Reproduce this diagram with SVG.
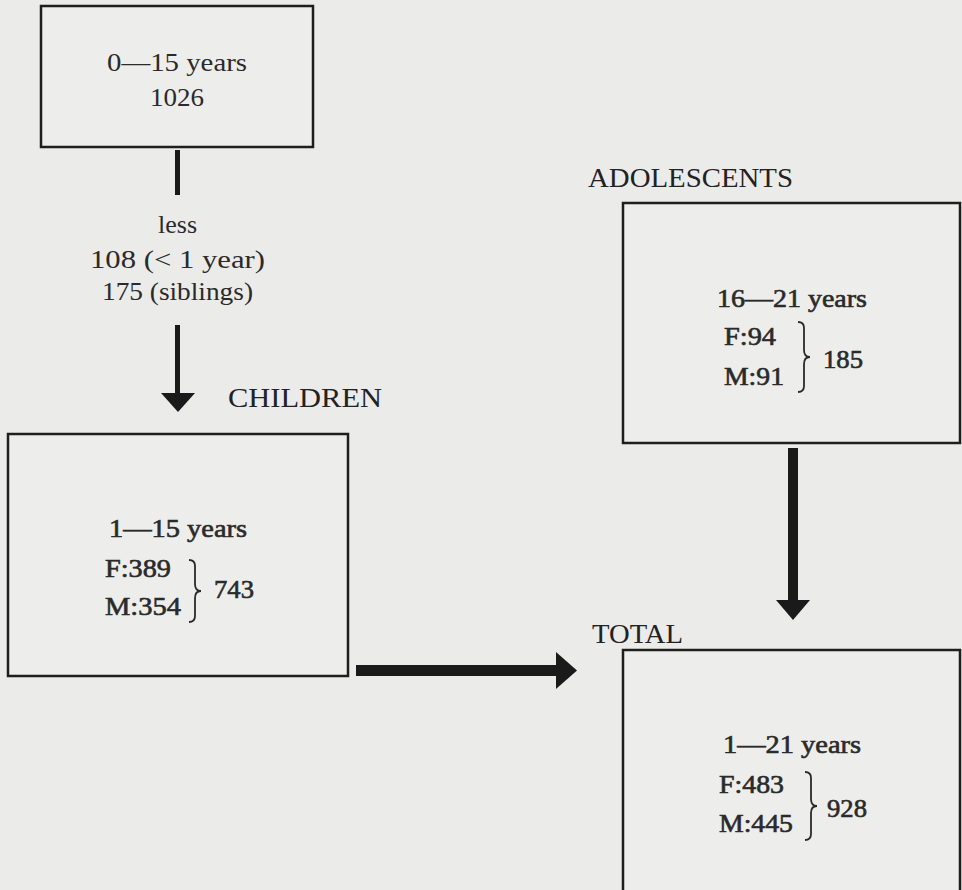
<svg xmlns="http://www.w3.org/2000/svg" width="962" height="890" viewBox="0 0 962 890">
<style>
.bg{fill:#ebebea}
.box{fill:#ededec;stroke:#1e1e1e;stroke-width:2.5}
.t{font-family:"Liberation Serif","DejaVu Serif",serif;font-size:25px;fill:#2a2a2a}
.b{stroke:#2a2a2a;stroke-width:0.6}
.h{font-family:"Liberation Serif","DejaVu Serif",serif;font-size:27px;fill:#222}
.arr{fill:#1a1a1a}
.brace{fill:none;stroke:#2a2a2a;stroke-width:1.8}
</style>
<rect class="bg" x="0" y="0" width="962" height="890"/>
<g id="connectors">
  <rect class="arr" x="175" y="150" width="5" height="45"/>
  <rect class="arr" x="175" y="325" width="5" height="70"/>
  <polygon class="arr" points="161,393 195,393 178,412"/>
  <rect class="arr" x="356" y="665" width="202" height="11"/>
  <polygon class="arr" points="556,652 577,670.5 556,689"/>
  <rect class="arr" x="788" y="448" width="10" height="153"/>
  <polygon class="arr" points="776,600 810,600 793,620"/>
  <g id="label-less">
    <text class="t" x="158" y="233" textLength="39" lengthAdjust="spacingAndGlyphs">less</text>
    <text class="t" x="90" y="268" textLength="175" lengthAdjust="spacingAndGlyphs">108 (&lt; 1 year)</text>
    <text class="t" x="102" y="300" textLength="151" lengthAdjust="spacingAndGlyphs">175 (siblings)</text>
  </g>
</g>
<g id="node-0-15">
  <rect class="box" x="41" y="6" width="272" height="141"/>
  <text class="t" x="107" y="71" textLength="140" lengthAdjust="spacingAndGlyphs">0—15 years</text>
  <text class="t" x="150" y="106" textLength="54" lengthAdjust="spacingAndGlyphs">1026</text>
</g>
<g id="node-children">
  <text class="h" x="228" y="407" textLength="154" lengthAdjust="spacingAndGlyphs">CHILDREN</text>
  <rect class="box" x="8" y="434" width="340" height="242"/>
  <text class="t b" x="109" y="537" textLength="138" lengthAdjust="spacingAndGlyphs">1—15 years</text>
  <text class="t b" x="105" y="577" textLength="66" lengthAdjust="spacingAndGlyphs">F:389</text>
  <text class="t b" x="105" y="615" textLength="76" lengthAdjust="spacingAndGlyphs">M:354</text>
  <path class="brace" d="M189,560 Q195,560 195,566 L195,584 Q195,591 201,591 Q195,591 195,598 L195,616 Q195,622 189,622"/>
  <text class="t b" x="214" y="598" textLength="40" lengthAdjust="spacingAndGlyphs">743</text>
</g>
<g id="node-adolescents">
  <text class="h" x="588" y="187" textLength="205" lengthAdjust="spacingAndGlyphs">ADOLESCENTS</text>
  <rect class="box" x="623" y="203" width="337" height="240"/>
  <text class="t b" x="717" y="307" textLength="150" lengthAdjust="spacingAndGlyphs">16—21 years</text>
  <text class="t b" x="724" y="345" textLength="52" lengthAdjust="spacingAndGlyphs">F:94</text>
  <text class="t b" x="724" y="385" textLength="60" lengthAdjust="spacingAndGlyphs">M:91</text>
  <path class="brace" d="M798,322 Q804,322 804,328 L804,350 Q804,357 810,357 Q804,357 804,364 L804,386 Q804,392 798,392"/>
  <text class="t b" x="823" y="368" textLength="40" lengthAdjust="spacingAndGlyphs">185</text>
</g>
<g id="node-total">
  <text class="h" x="592" y="643" textLength="91" lengthAdjust="spacingAndGlyphs">TOTAL</text>
  <rect class="box" x="623" y="650" width="337" height="250"/>
  <text class="t b" x="723" y="753" textLength="138" lengthAdjust="spacingAndGlyphs">1—21 years</text>
  <text class="t b" x="719" y="793" textLength="65" lengthAdjust="spacingAndGlyphs">F:483</text>
  <text class="t b" x="719" y="832" textLength="74" lengthAdjust="spacingAndGlyphs">M:445</text>
  <path class="brace" d="M805,772 Q811,772 811,778 L811,799 Q811,806 817,806 Q811,806 811,813 L811,834 Q811,840 805,840"/>
  <text class="t b" x="827" y="817" textLength="40" lengthAdjust="spacingAndGlyphs">928</text>
</g>
</svg>
